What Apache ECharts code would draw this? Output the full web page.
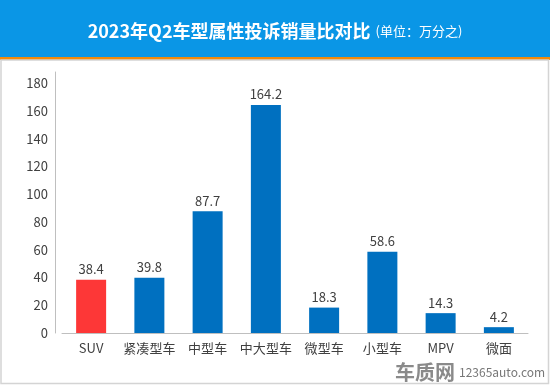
<!DOCTYPE html>
<html><head><meta charset="utf-8">
<script src="https://cdn.jsdelivr.net/npm/echarts@6/dist/echarts.min.js"></script>
<style>html,body{margin:0;padding:0;background:#fff}#c{width:550px;height:386px}</style>
</head><body><div id="c"></div>
<script>
const categories = ['SUV','紧凑型车','中型车','中大型车','微型车','小型车','MPV','微面'];
const values = [38.4, 39.8, 87.7, 164.2, 18.3, 58.6, 14.3, 4.2];
const highlight = ['SUV'];
const yTicks = [0,20,40,60,80,100,120,140,160,180];
const titleMain = '2023年Q2车型属性投诉销量比对比';
const titleUnit = '(单位：万分之)';

const FONT = '"Noto Sans CJK SC","Noto Sans",sans-serif';
const chart = echarts.init(document.getElementById('c'));
chart.setOption({
  animation: false,
  backgroundColor: '#fff',
  graphic: [
    {type:'rect', shape:{x:0,y:0,width:550,height:57}, style:{fill:'#0a96e6'}, z:-1},
    {type:'rect', shape:{x:0,y:57,width:550,height:3}, style:{fill:'#f28a0a'}, z:-1},
    {type:'rect', shape:{x:1,y:60,width:547.5,height:323.5}, style:{fill:'none', stroke:'#d4d4d4', lineWidth:1.5}, z:-1},
    {type:'text', left:395, top:362, style:{text:'车质网', fill:'#8a8a8a', font:'bold 20px '+FONT}},
    {type:'text', left:459, top:366, style:{text:'12365auto.com', fill:'#777', font:'12px '+FONT}}
  ],
  title: {
    text: '{a|' + titleMain + '} {b|' + titleUnit + '}',
    left: 'center', top: 17,
    textStyle: { fontWeight:'normal', rich: {
      a: {fontSize:18, fontWeight:'bold', color:'#fff', fontFamily:FONT},
      b: {fontSize:13, fontWeight:'normal', color:'#fff', fontFamily:FONT}
    }}
  },
  grid: { left: 62, right: 22, top: 72, bottom: 53 },
  xAxis: {
    type: 'category', data: categories,
    axisLine: {lineStyle:{color:'#bfbfbf'}},
    axisTick: {show:false},
    axisLabel: {color:'#404040', fontSize:13, fontFamily:FONT, margin:9, interval:0}
  },
  yAxis: {
    type: 'value', min: 0, max: 188, interval: 20, offset: 7,
    axisLine: {show:true, lineStyle:{color:'#bfbfbf'}},
    axisTick: {show:false},
    splitLine: {show:false},
    axisLabel: {color:'#404040', fontSize:13, fontFamily:FONT, margin:7, showMaxLabel:false,
      formatter: v => yTicks.includes(v) ? String(v) : ''}
  },
  series: [{
    type: 'bar', barWidth: 30,
    data: values.map((v,i) => ({value:v, itemStyle:{color: highlight.includes(categories[i]) ? '#fd3737' : '#0070c0'}})),
    label: {show:true, position:'top', color:'#404040', fontSize:13, fontFamily:FONT, distance:4,
      formatter: p => p.value.toFixed(1)}
  }]
});
</script></body></html>
